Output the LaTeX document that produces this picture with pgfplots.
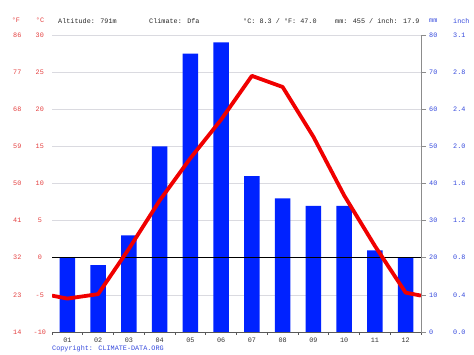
\documentclass[border=0pt]{standalone}
\usepackage{pgfplots}
\pgfplotsset{compat=1.18}
\usepackage{fontspec}
\setmainfont{Liberation Mono}
\setmonofont{Liberation Mono}
\definecolor{tred}{RGB}{228,64,64}
\definecolor{mblue}{RGB}{52,72,220}
\definecolor{barblue}{RGB}{0,34,255}
\definecolor{linered}{RGB}{240,0,0}
\definecolor{gridc}{RGB}{218,218,224}
\newcommand{\fs}{\fontsize{6.8}{7.5}\selectfont}
\newcommand{\LL}[2]{\makebox[22pt][c]{#1}\hspace{5.5pt}\makebox[12pt][c]{#2}}
\newcommand{\RL}[2]{\makebox[24pt][l]{#1}#2}
\pgfplotsset{
  geom/.style={at={(52pt,23pt)}, anchor=south west, scale only axis,
    width=369pt, height=297pt, xmin=0.5, xmax=12.5, clip=true},
}
\begin{document}
\begin{tikzpicture}[x=1pt,y=1pt]
\useasboundingbox (0,0) rectangle (474,355);
% grid + left labels
\begin{axis}[geom, ymin=-10, ymax=30,
  axis line style={draw=none}, xtick=\empty,
  ytick={-10,-5,0,5,10,15,20,25,30},
  yticklabels={\LL{14}{-10},\LL{23}{-5},\LL{32}{0},\LL{41}{5},\LL{50}{10},\LL{59}{15},\LL{68}{20},\LL{77}{25},\LL{86}{30}},
  ymajorgrids, major grid style={gridc, line width=0.7pt},
  major tick length=0pt,
  yticklabel style={font=\fs, text=tred, anchor=east, inner sep=0pt, xshift=-6pt}]
\addplot[draw=none] coordinates {(1,0)};
\end{axis}
% precipitation bars + right axis + month axis
\begin{axis}[geom, ymin=0, ymax=80,
  axis y line*=right, axis x line*=bottom,
  x axis line style={-, draw=black!65, line width=0.6pt},
  y axis line style={-, draw=black!45, line width=0.8pt},
  ytick={0,10,20,30,40,50,60,70,80},
  yticklabels={\RL{0}{0.0},\RL{10}{0.4},\RL{20}{0.8},\RL{30}{1.2},\RL{40}{1.6},\RL{50}{2.0},\RL{60}{2.4},\RL{70}{2.8},\RL{80}{3.1}},
  yticklabel style={font=\fs, text=mblue, anchor=west, inner sep=0pt, xshift=3pt},
  ytick style={draw=black!45, line width=0.6pt},
  ytick align=outside, major tick length=5pt,
  xtick={1,...,12},
  xticklabels={01,02,03,04,05,06,07,08,09,10,11,12},
  xticklabel style={font=\fs, text=black!80, anchor=base, inner sep=0pt, yshift=-6pt},
  xtick style={draw=none},
  minor xtick={0.5,1.5,...,12.5},
  minor tick length=3pt, xtick align=outside,
  minor x tick style={draw=black!65, line width=0.6pt}]
\addplot[ybar, bar width=15.5pt, fill=barblue, draw=none] coordinates {
(1,20) (2,18) (3,26) (4,50) (5,75) (6,78) (7,42) (8,36) (9,34) (10,34) (11,22) (12,20)};
\end{axis}
% temperature line + zero line
\begin{axis}[geom, ymin=-10, ymax=30, hide axis]
\addplot[black, line width=0.7pt] coordinates {(0.5,0) (12.5,0)};
\addplot[linered, line width=3.8pt, line join=round] coordinates {
(0.5,-5.1) (1,-5.5) (2,-4.9) (3,1.2) (4,7.7) (5,13.4) (6,18.6) (7,24.5) (8,23.0) (9,16.3) (10,8.4) (11,1.6) (12,-4.7) (12.5,-5.1)};
\end{axis}
% header
\begin{scope}[every node/.style={inner sep=0pt, font=\fs}]
\node[text=tred] at (16,334.3) {°F};
\node[text=tred] at (40,334.3) {°C};
\node[anchor=west, text=black!85] at (58,334.3) {Altitude: 791m};
\node[anchor=west, text=black!85] at (149,334.3) {Climate: Dfa};
\node[anchor=west, text=black!85] at (243,334.3) {°C: 8.3 / °F: 47.0};
\node[anchor=west, text=black!85] at (335,334.3) {mm: 455 / inch: 17.9};
\node[anchor=west, text=mblue] at (429,334.3) {mm};
\node[anchor=west, text=mblue] at (453,334.3) {inch};
\node[anchor=west, text=mblue] at (52,6.5) {Copyright: CLIMATE-DATA.ORG};
\end{scope}
\end{tikzpicture}
\end{document}
